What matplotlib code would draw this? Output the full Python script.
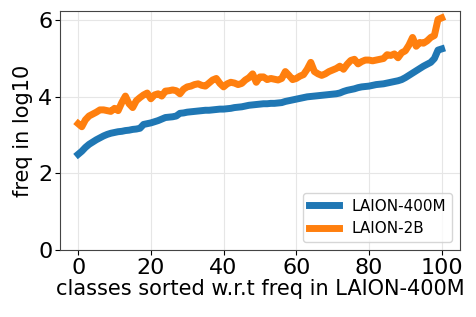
import numpy as np
import matplotlib
matplotlib.use("Agg")
import matplotlib.pyplot as plt

# values (log10 freq), classes 0..100
laion_400m = [2.50, 2.58, 2.68, 2.76, 2.82, 2.88, 2.93, 2.98, 3.02, 3.05,
              3.07, 3.09, 3.10, 3.12, 3.13, 3.15, 3.16, 3.18, 3.28, 3.30,
              3.32, 3.35, 3.38, 3.42, 3.46, 3.47, 3.48, 3.50, 3.57, 3.58,
              3.60, 3.61, 3.62, 3.63, 3.64, 3.65, 3.65, 3.66, 3.67, 3.68,
              3.68, 3.69, 3.70, 3.72, 3.73, 3.74, 3.76, 3.78, 3.79, 3.80,
              3.81, 3.82, 3.82, 3.83, 3.83, 3.84, 3.85, 3.88, 3.90, 3.92,
              3.94, 3.96, 3.98, 4.00, 4.01, 4.02, 4.03, 4.04, 4.05, 4.06,
              4.07, 4.08, 4.10, 4.14, 4.17, 4.19, 4.21, 4.24, 4.26, 4.27,
              4.28, 4.30, 4.32, 4.33, 4.34, 4.36, 4.38, 4.40, 4.42, 4.45,
              4.50, 4.56, 4.62, 4.68, 4.74, 4.80, 4.85, 4.90, 5.00, 5.22,
              5.25]
laion_2b = [3.30, 3.22, 3.40, 3.50, 3.55, 3.60, 3.66, 3.66, 3.64, 3.62,
            3.70, 3.64, 3.85, 4.02, 3.82, 3.72, 3.90, 3.98, 4.05, 4.10,
            3.95, 4.05, 4.08, 4.02, 4.15, 4.16, 4.18, 4.16, 4.08, 4.20,
            4.26, 4.28, 4.32, 4.34, 4.30, 4.28, 4.36, 4.44, 4.48, 4.35,
            4.26, 4.34, 4.38, 4.36, 4.32, 4.35, 4.44, 4.50, 4.60, 4.38,
            4.52, 4.52, 4.45, 4.48, 4.46, 4.44, 4.48, 4.66, 4.56, 4.45,
            4.48, 4.54, 4.58, 4.72, 4.90, 4.66, 4.60, 4.56, 4.60, 4.66,
            4.70, 4.74, 4.80, 4.72, 4.85, 4.95, 4.98, 4.86, 4.92, 4.96,
            4.96, 4.94, 4.96, 4.98, 5.00, 5.10, 5.08, 5.12, 5.02, 5.15,
            5.20, 5.35, 5.55, 5.32, 5.42, 5.40, 5.46, 5.55, 5.60, 6.02,
            6.06]
classes = np.arange(len(laion_400m))

fig = plt.figure(figsize=(4.76, 3.17), dpi=100)
ax = fig.add_axes([0.126, 0.211, 0.84, 0.754])

ax.plot(classes, laion_400m, color="#1f77b4", lw=5, label="LAION-400M")
ax.plot(classes, laion_2b, color="#ff7f0e", lw=5, label="LAION-2B")
ax.set_ylim(bottom=0)
ax.set_yticks([0, 2, 4, 6])
ax.set_xticks([0, 20, 40, 60, 80, 100])

ax.grid(True, color="#e6e6e6", lw=0.8)
ax.set_axisbelow(True)
for s in ax.spines.values():
    s.set_color("#444444")

ax.tick_params(labelsize=16, pad=2)
ax.set_xlabel("classes sorted w.r.t freq in LAION-400M", fontsize=15, labelpad=1)
ax.set_ylabel("freq in log10", fontsize=15, labelpad=4)
ax.legend(loc="lower right", fontsize=11)

fig.savefig("out.png", dpi=100)
